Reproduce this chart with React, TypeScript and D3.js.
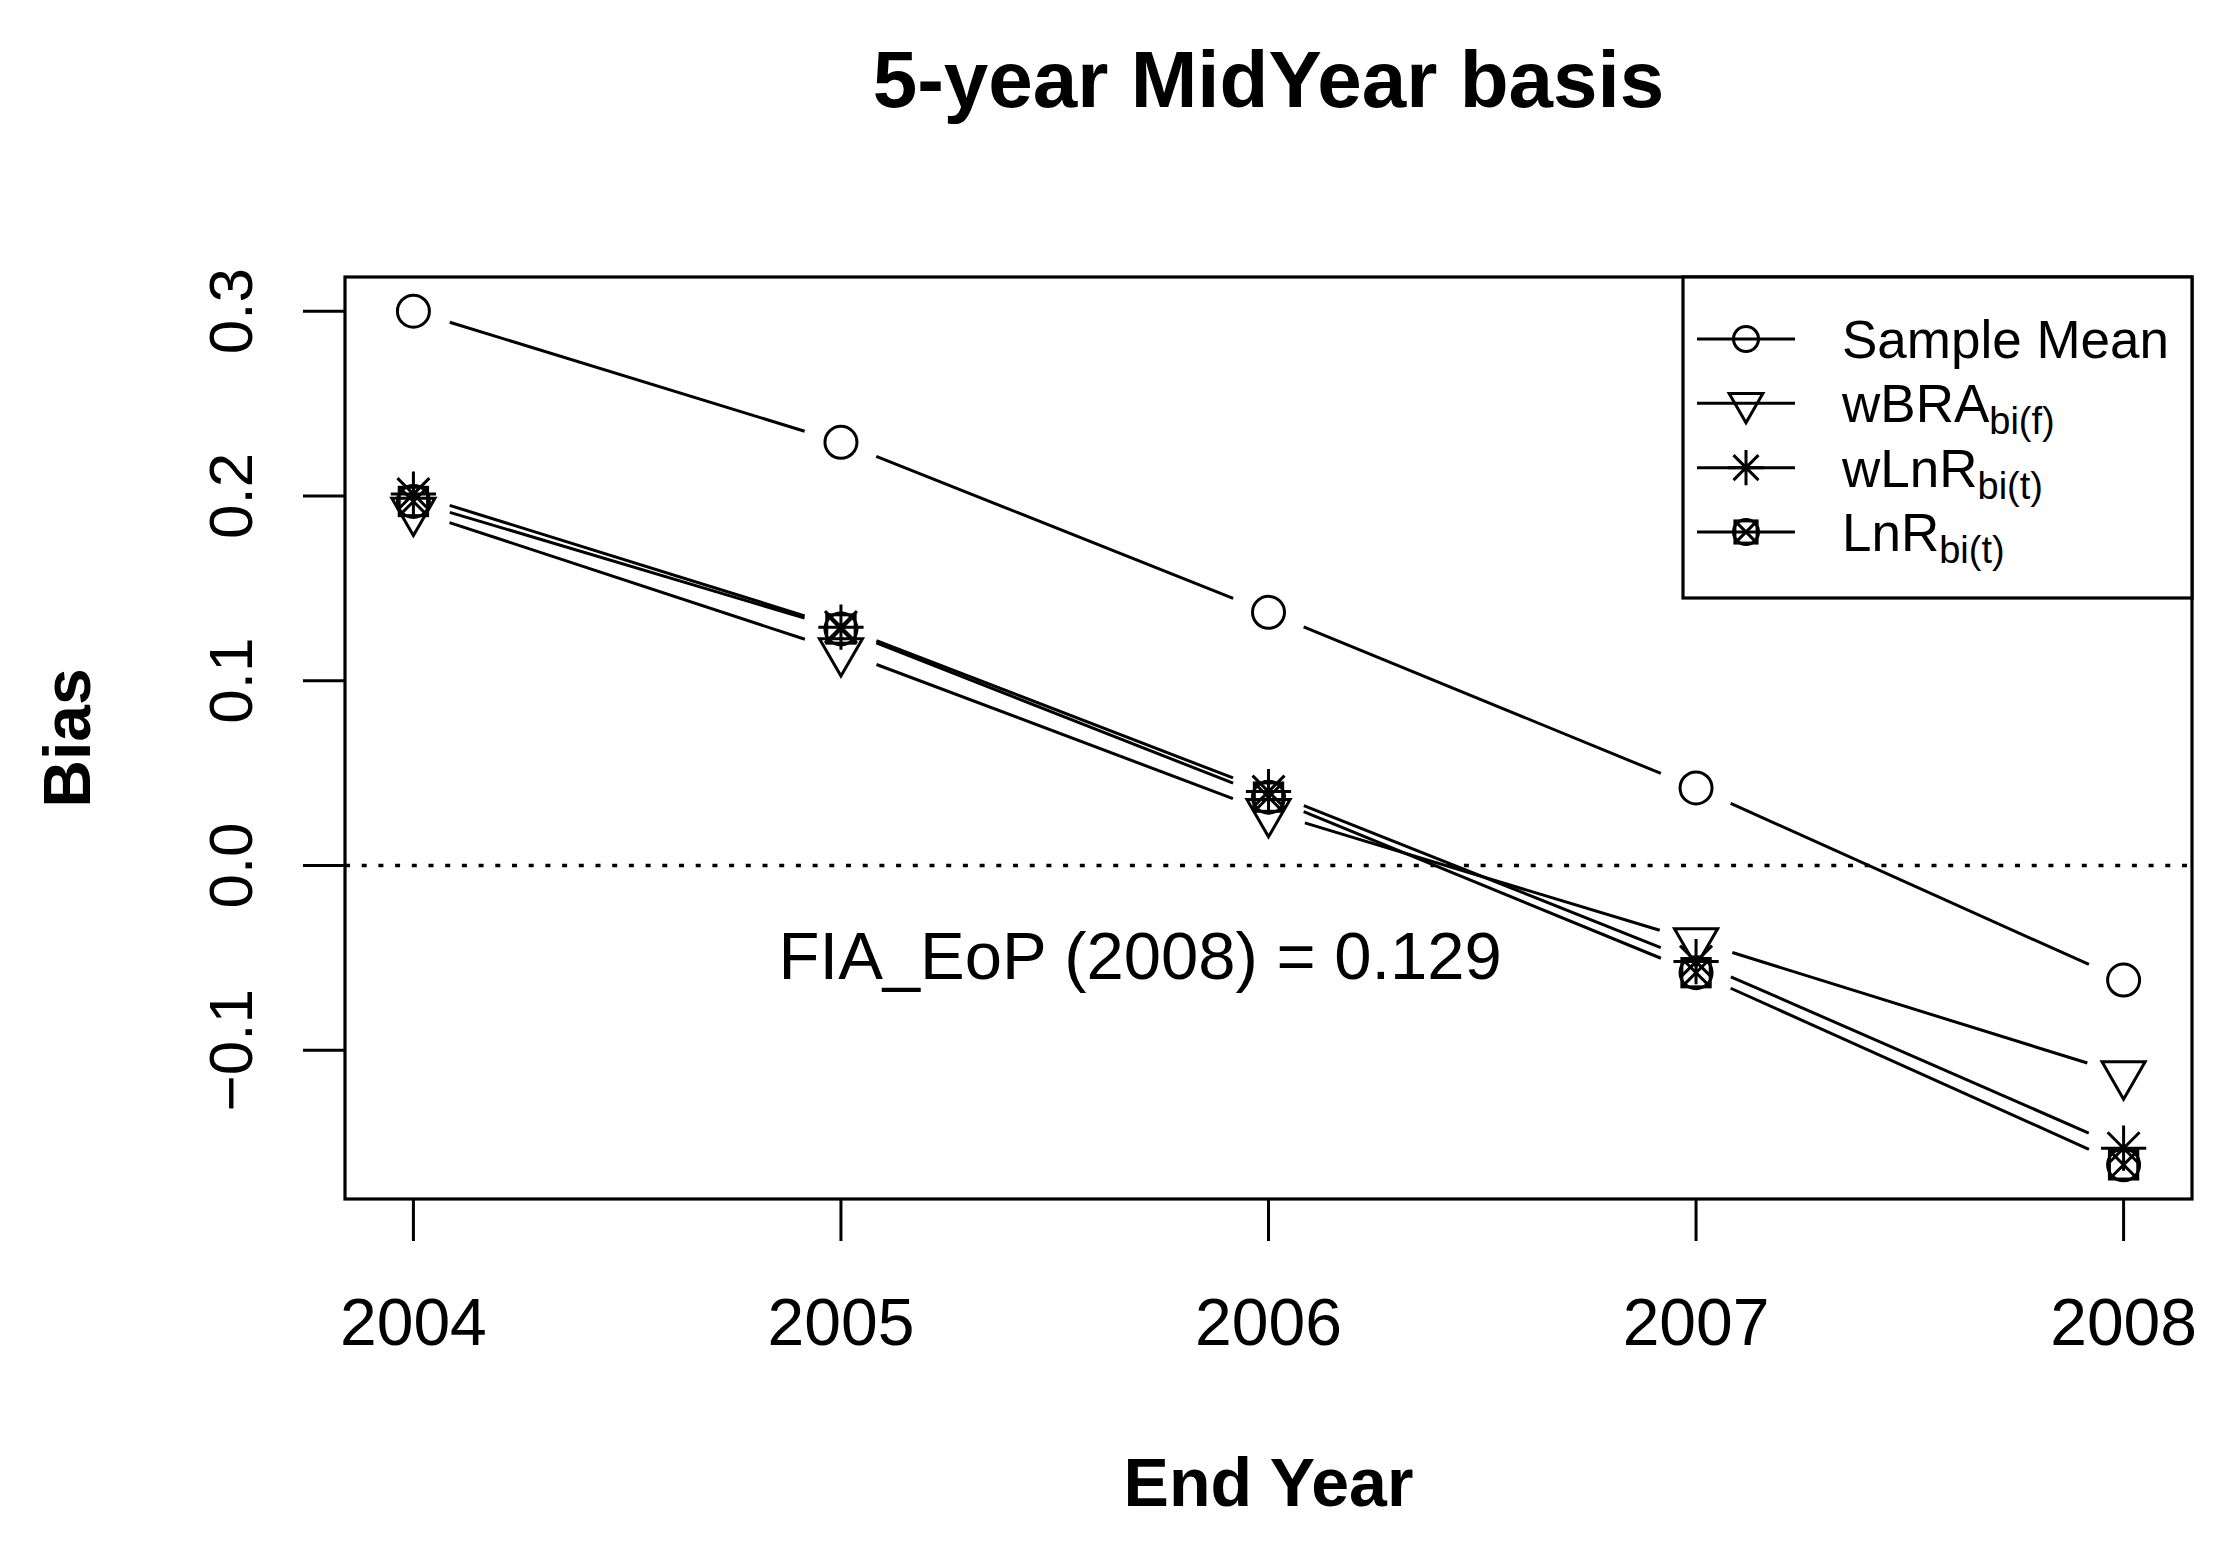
import { useEffect, useRef } from "react";
import * as d3 from "d3";

const years = [2004, 2005, 2006, 2007, 2008];
const sampleMean = [0.3, 0.229, 0.137, 0.042, -0.062];
const wBRA = [0.192, 0.116, 0.029, -0.041, -0.113];
const wLnR = [0.201, 0.129, 0.04, -0.052, -0.153];
const lnR = [0.197, 0.128, 0.037, -0.058, -0.162];

const yTicks = [-0.1, 0.0, 0.1, 0.2, 0.3];
const legendNames = ["Sample Mean", "wBRA", "wLnR", "LnR"];
const legendSubs = ["", "bi(f)", "bi(t)", "bi(t)"];
const symbols = ["circle", "triangleDown", "asterisk", "squareCross"];

const W = 2230;
const H = 1541;
const FONT = "'Liberation Sans', Arial, sans-serif";

type G = d3.Selection<SVGGElement, unknown, null, undefined>;

// R-like plotting symbols, r0 is the base "radius"
function drawSymbol(g: G, kind: string, cx: number, cy: number, r0: number) {
  const s = g.append("g").attr("fill", "none").attr("stroke", "#000").attr("stroke-width", 3);
  if (kind === "circle") {
    s.append("circle").attr("cx", cx).attr("cy", cy).attr("r", r0);
  } else if (kind === "triangleDown") {
    const r = 1.555 * r0;
    const xc = 1.347 * r0;
    const yc = r / 2;
    s.append("path").attr(
      "d",
      `M${cx - xc},${cy - yc}L${cx + xc},${cy - yc}L${cx},${cy + r}Z`
    );
  } else if (kind === "asterisk") {
    const p = Math.SQRT2 * r0;
    const q = r0;
    s.append("path").attr(
      "d",
      `M${cx - p},${cy}L${cx + p},${cy}M${cx},${cy - p}L${cx},${cy + p}` +
        `M${cx - q},${cy - q}L${cx + q},${cy + q}M${cx - q},${cy + q}L${cx + q},${cy - q}`
    );
  } else {
    const h = 0.886 * r0;
    s.append("rect").attr("x", cx - h).attr("y", cy - h).attr("width", 2 * h).attr("height", 2 * h);
    s.append("path").attr(
      "d",
      `M${cx - h},${cy - h}L${cx + h},${cy + h}M${cx - h},${cy + h}L${cx + h},${cy - h}`
    );
    s.append("circle").attr("cx", cx).attr("cy", cy).attr("r", r0);
  }
}

export default function App() {
  const svgRef = useRef<SVGSVGElement>(null);

  useEffect(() => {
    if (!svgRef.current) return;
    const svg = d3.select(svgRef.current);
    svg.selectAll("*").remove();

    const left = 345;
    const right = 2192;
    const top = 277;
    const bottom = 1199;

    const series = [sampleMean, wBRA, wLnR, lnR];
    const all = series.flat();
    const [ymin, ymax] = d3.extent(all) as [number, number];
    const ypad = (ymax - ymin) * 0.04;
    const xpad = (years[years.length - 1] - years[0]) * 0.04;

    const x = d3
      .scaleLinear()
      .domain([years[0] - xpad, years[years.length - 1] + xpad])
      .range([left, right]);
    const y = d3
      .scaleLinear()
      .domain([ymin - ypad, ymax + ypad])
      .range([bottom, top]);

    const root = svg.append("g") as unknown as G;

    root.append("rect").attr("width", W).attr("height", H).attr("fill", "#fff");

    // title
    root
      .append("text")
      .attr("x", (left + right) / 2)
      .attr("y", 107)
      .attr("text-anchor", "middle")
      .attr("font-family", FONT)
      .attr("font-weight", "bold")
      .attr("font-size", 80)
      .text("5-year MidYear basis");

    // zero reference line
    root
      .append("line")
      .attr("x1", left)
      .attr("x2", right)
      .attr("y1", y(0))
      .attr("y2", y(0))
      .attr("stroke", "#000")
      .attr("stroke-width", 3.5)
      .attr("stroke-dasharray", "5 11.7");

    // series lines with gaps around points (type = "b")
    const gap = 38;
    series.forEach((vals, k) => {
      const pts = vals.map((v, i) => [x(years[i]), y(v)]);
      for (let i = 0; i < pts.length - 1; i++) {
        const [x0, y0] = pts[i];
        const [x1, y1] = pts[i + 1];
        const len = Math.hypot(x1 - x0, y1 - y0);
        const ux = (x1 - x0) / len;
        const uy = (y1 - y0) / len;
        root
          .append("line")
          .attr("x1", x0 + ux * gap)
          .attr("y1", y0 + uy * gap)
          .attr("x2", x1 - ux * gap)
          .attr("y2", y1 - uy * gap)
          .attr("stroke", "#000")
          .attr("stroke-width", 3);
      }
      pts.forEach(([px, py]) => drawSymbol(root, symbols[k], px, py, 16));
    });

    // annotation
    root
      .append("text")
      .attr("x", x(2005.7))
      .attr("y", y(-0.05) + 0.32 * 67)
      .attr("text-anchor", "middle")
      .attr("font-family", FONT)
      .attr("font-size", 67)
      .text("FIA_EoP (2008) = 0.129");

    // box
    root
      .append("rect")
      .attr("x", left)
      .attr("y", top)
      .attr("width", right - left)
      .attr("height", bottom - top)
      .attr("fill", "none")
      .attr("stroke", "#000")
      .attr("stroke-width", 3.2);

    // x axis
    const xAxis = root.append("g");
    years.forEach((yr) => {
      xAxis
        .append("line")
        .attr("x1", x(yr))
        .attr("x2", x(yr))
        .attr("y1", bottom)
        .attr("y2", bottom + 42)
        .attr("stroke", "#000")
        .attr("stroke-width", 3);
      xAxis
        .append("text")
        .attr("x", x(yr))
        .attr("y", 1345)
        .attr("text-anchor", "middle")
        .attr("font-family", FONT)
        .attr("font-size", 66)
        .text(String(yr));
    });

    // y axis
    const yAxis = root.append("g");
    yTicks.forEach((t) => {
      yAxis
        .append("line")
        .attr("x1", left)
        .attr("x2", left - 42)
        .attr("y1", y(t))
        .attr("y2", y(t))
        .attr("stroke", "#000")
        .attr("stroke-width", 3);
      yAxis
        .append("text")
        .attr("transform", `translate(252,${y(t)}) rotate(-90)`)
        .attr("text-anchor", "middle")
        .attr("font-family", FONT)
        .attr("font-size", 62)
        .text(d3.format(".1f")(t));
    });

    // axis titles
    root
      .append("text")
      .attr("x", (left + right) / 2)
      .attr("y", 1506)
      .attr("text-anchor", "middle")
      .attr("font-family", FONT)
      .attr("font-weight", "bold")
      .attr("font-size", 68)
      .text("End Year");
    root
      .append("text")
      .attr("transform", `translate(90,${(top + bottom) / 2}) rotate(-90)`)
      .attr("text-anchor", "middle")
      .attr("font-family", FONT)
      .attr("font-weight", "bold")
      .attr("font-size", 66)
      .text("Bias");

    // legend
    const lg = root.append("g");
    const lgLeft = 1683;
    const lgTop = top;
    const lgBottom = 598;
    lg.append("rect")
      .attr("x", lgLeft)
      .attr("y", lgTop)
      .attr("width", right - lgLeft)
      .attr("height", lgBottom - lgTop)
      .attr("fill", "#fff")
      .attr("stroke", "#000")
      .attr("stroke-width", 3.2);
    const rowY = d3.scalePoint<number>().domain([0, 1, 2, 3]).range([339, 532]);
    legendNames.forEach((name, i) => {
      const cy = rowY(i)!;
      lg.append("line")
        .attr("x1", 1697)
        .attr("x2", 1795)
        .attr("y1", cy)
        .attr("y2", cy)
        .attr("stroke", "#000")
        .attr("stroke-width", 3);
      drawSymbol(lg as unknown as G, symbols[i], 1746, cy, 12.5);
      const t = lg
        .append("text")
        .attr("x", 1842)
        .attr("y", cy + 0.36 * 53)
        .attr("font-family", FONT)
        .attr("font-size", 53)
        .text(name);
      if (legendSubs[i]) {
        t.append("tspan").attr("dy", 12).attr("font-size", 38).text(legendSubs[i]);
      }
    });
  }, []);

  return (
    <svg
      ref={svgRef}
      width={W}
      height={H}
      style={{ position: "absolute", left: 0, top: 0, display: "block" }}
      role="img"
      aria-label="5-year MidYear basis bias chart"
    />
  );
}
